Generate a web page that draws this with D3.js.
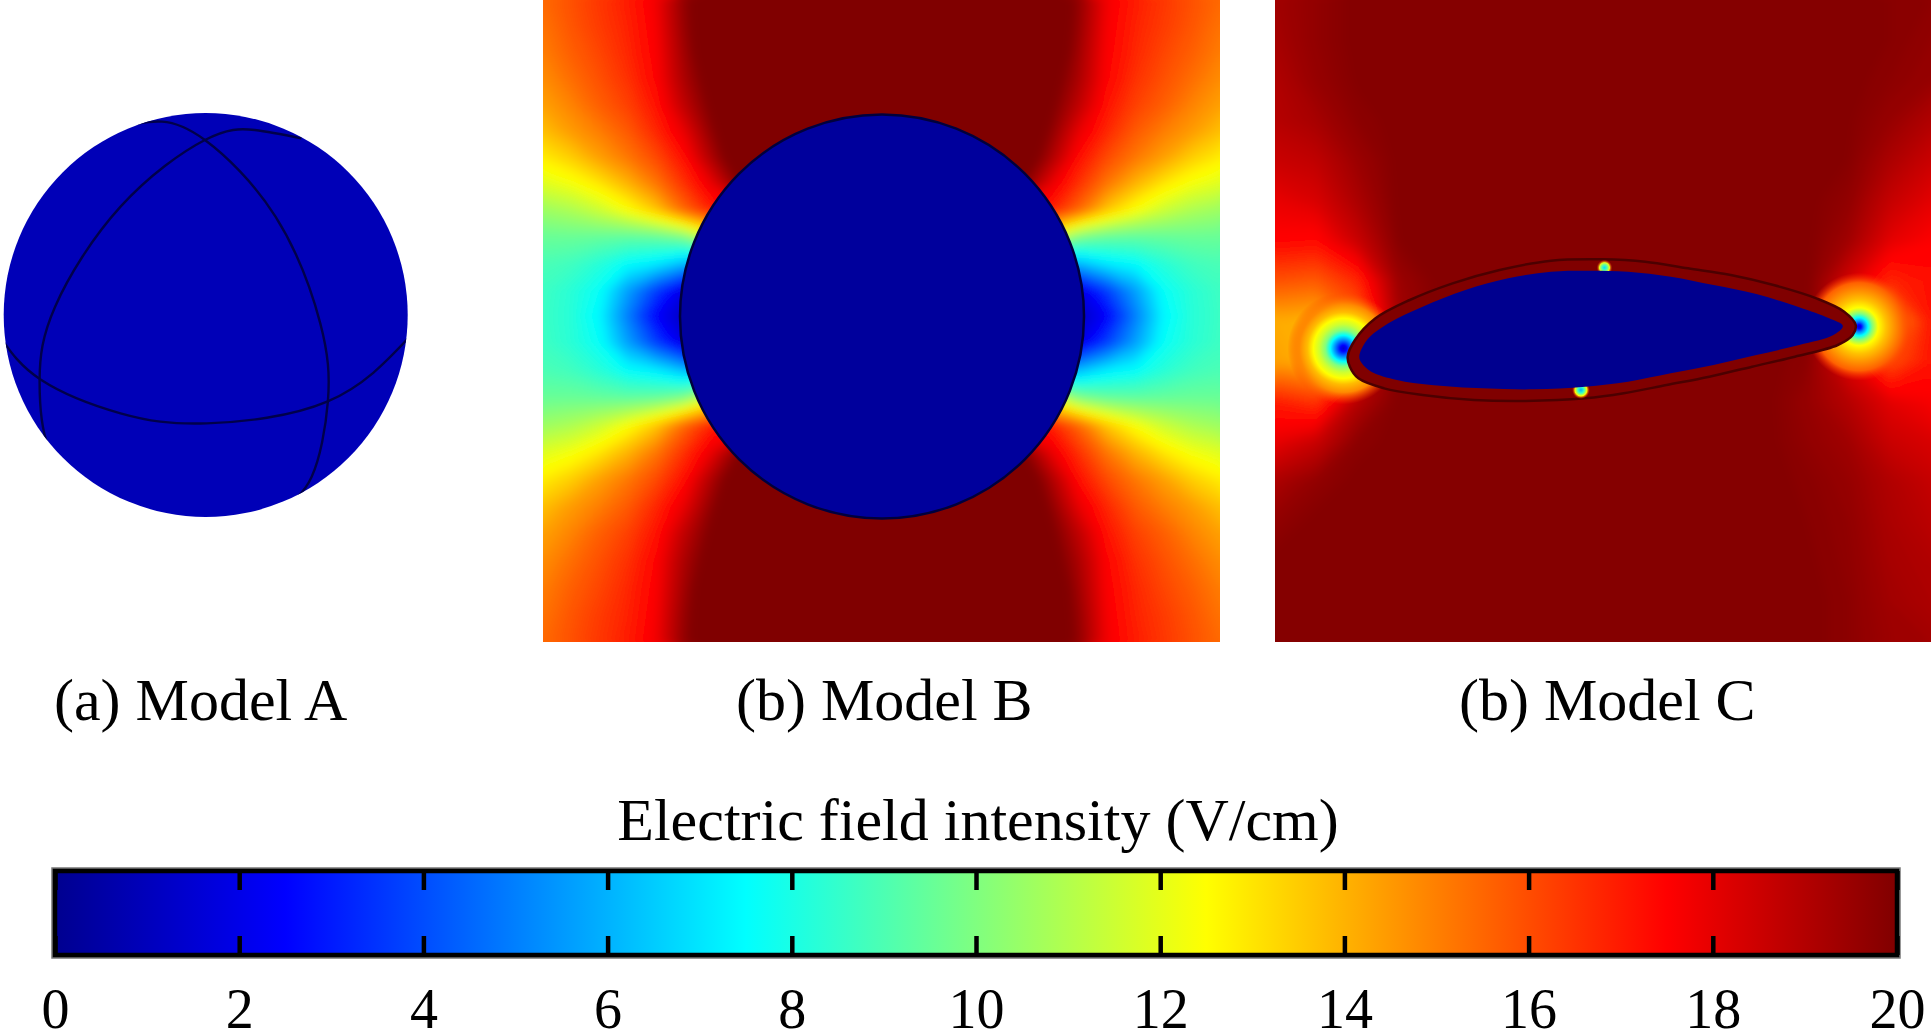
<!DOCTYPE html>
<html>
<head>
<meta charset="utf-8">
<title>Electric field intensity</title>
<script src="https://cdn.jsdelivr.net/npm/d3@7"></script>
<style>
  body { margin: 0; background: #fff; }
  text { font-family: "Liberation Serif", serif; fill: #000; }
</style>
</head>
<body>
<script>
// Data
//= ================================
let captions = ['(a) Model A', '(b) Model B', '(b) Model C'];
let barTitle = 'Electric field intensity (V/cm)';
let tickValues = [0, 2, 4, 6, 8, 10, 12, 14, 16, 18, 20];
let jetStops = [0, 2.5, 7.5, 12.5, 17.5, 20];
let jetColors = ['#00008f', '#0000ff', '#00ffff', '#ffff00', '#ff0000', '#800000'];

// interior field of each model (V/cm)
let sphereField = 0.9;
let circleField = 0.3;
let blobField = 0;

// Model B, top-left quadrant of the field, mirrored when drawn
let fieldB = [
  [15.5, 16.0, 16.5, 17.0, 17.8, 19.7, 21, 21, 21, 21, 21, 21, 21],
  [15.3, 15.9, 16.4, 16.9, 17.7, 19.6, 21, 21, 21, 21, 21, 21, 21],
  [15.1, 15.7, 16.2, 16.8, 17.6, 19.4, 21, 21, 21, 21, 21, 21, 21],
  [14.8, 15.4, 16.0, 16.6, 17.5, 19.2, 20.5, 21, 21, 21, 21, 21, 21],
  [14.4, 15.0, 15.7, 16.3, 17.2, 18.8, 20.2, 21, 21, 21, 21, 21, 21],
  [13.8, 14.5, 15.1, 15.8, 16.8, 18.0, 19.8, 21, 21, 21, 21, 21, 21],
  [12.9, 13.5, 14.4, 15.2, 16.1, 17.3, 19.2, 21, 21, 21, 21, 21, 21],
  [11.9, 12.3, 13.0, 14.0, 15.2, 16.6, 18.0, 20, 20, 20, 20, 20, 20],
  [10.6, 10.9, 11.5, 12.4, 13.6, 15.5, 17.0, 17, 17, 17, 17, 17, 17],
  [9.6, 9.6, 9.5, 9.4, 9.5, 10.0, 12.0, 12, 12, 12, 12, 12, 12],
  [9.0, 8.8, 8.3, 7.6, 7.2, 6.2, 6.0, 6, 6, 6, 6, 6, 6],
  [8.75, 8.35, 7.7, 5.7, 3.8, 1.9, 1.5, 2, 2, 2, 2, 2, 2],
  [8.7, 8.3, 7.4, 5.0, 2.5, 1.2, 1.0, 1, 1, 1, 1, 1, 1]
];

// Model C, full field on a coarse grid
let fieldC = [
  [19.4, 19.7, 20, 20, 20, 20, 20, 20, 20, 20, 20, 20, 20, 20, 20, 19.9, 19.8],
  [19.3, 19.7, 20, 20, 20, 20, 20, 20, 20, 20, 20, 20, 20, 20, 20, 19.9, 19.7],
  [19.1, 19.6, 19.95, 20, 20, 20, 20, 20, 20, 20, 20, 20, 20, 20, 20, 19.8, 19.6],
  [19.0, 19.3, 19.8, 20, 20, 20, 20, 20, 20, 20, 20, 20, 20, 20, 19.95, 19.6, 19.1],
  [18.6, 18.8, 19.5, 20, 20, 20, 20, 20, 20, 20, 20, 20, 20, 20, 19.9, 19.2, 18.6],
  [18.0, 18.3, 19.2, 20, 20, 20, 20, 20, 20, 20, 20, 20, 20, 20, 19.7, 18.7, 18.1],
  [17.5, 17.4, 18.6, 19.9, 20, 20, 20, 20, 20, 20, 20, 20, 20, 20, 19.4, 18.1, 17.6],
  [16.0, 15.8, 16.8, 19.5, 20, 20, 20, 20, 20, 20, 20, 20, 20, 20, 18.4, 16.8, 17.3],
  [14.2, 14.0, 15.5, 19.3, 20, 20, 20, 20, 20, 20, 20, 20, 20, 20, 17.0, 14.5, 17.2],
  [14.4, 14.0, 16.0, 20, 20, 20, 20, 20, 20, 20, 20, 20, 20, 19.8, 18.1, 16.0, 17.2],
  [17.0, 16.5, 19.0, 20, 20, 20, 20, 20, 20, 20, 20, 20, 20, 19.6, 19.0, 18.1, 17.7],
  [18.0, 18.6, 19.8, 20, 20, 20, 20, 20, 20, 20, 20, 20, 20, 19.7, 19.4, 18.6, 18.3],
  [19.2, 19.7, 20, 20, 20, 20, 20, 20, 20, 20, 20, 20, 20, 19.85, 19.6, 19.1, 18.7],
  [19.7, 20, 20, 20, 20, 20, 20, 20, 20, 20, 20, 20, 20, 19.9, 19.7, 19.2, 18.9],
  [20, 20, 20, 20, 20, 20, 20, 20, 20, 20, 20, 20, 20, 19.95, 19.75, 19.3, 19.1],
  [20, 20, 20, 20, 20, 20, 20, 20, 20, 20, 20, 20, 20, 20, 19.8, 19.4, 19.2],
  [20, 20, 20, 20, 20, 20, 20, 20, 20, 20, 20, 20, 20, 20, 19.8, 19.5, 19.4]
];

// field falling off around the sharp points of model C: [radius, value]
let spotLeft = [[0, 1.5], [3, 2.5], [8, 5], [13, 7.5], [18, 10], [24, 11.5], [30, 12.5], [36, 13.8], [44, 14.8], [56, 16]];
let spotRight = [[0, 1.5], [2, 2.5], [5, 5], [9, 7.5], [13, 10], [19, 12.5], [27, 13.7], [34, 14.5], [44, 15.6], [54, 16.6]];
let spotTop = [[0, 7], [3, 9.5], [5, 12], [8, 18]];
let spotBottom = [[0, 6], [3, 8.5], [6, 12.5], [9, 18]];

// Outlines, in units of the sketch they were traced on
let sphereArcA = [[395,132],[470,125],[595,180],[800,410],[930,730],[952,965],[905,1190],[815,1285]];
let sphereArcB = [[875,175],[740,150],[595,180],[350,380],[160,680],[115,900],[140,1100],[225,1205]];
let sphereArcC = [[0,770],[120,900],[350,1000],[600,1030],[950,965],[1190,770]];
let blobInner = [[232,410],[250,360],[300,310],[380,260],[480,210],[580,175],[680,155],[760,152],[860,155],[960,170],[1060,195],[1160,222],[1260,262],[1330,295],[1362,318],[1340,345],[1260,375],[1160,405],[1060,435],[960,460],[860,485],[760,500],[640,508],[520,505],[400,495],[320,480],[260,455],[238,430]];
let blobOuter = [[205,410],[222,360],[270,295],[350,240],[450,190],[560,150],[680,122],[800,118],[900,125],[1000,145],[1100,165],[1200,195],[1300,235],[1365,275],[1392,315],[1385,345],[1350,375],[1250,410],[1150,440],[1050,470],[950,495],[850,520],[760,535],[620,543],[500,540],[380,525],[290,505],[230,475],[210,440]];

// Set up the chart
//= ================================
let svgWidth = 1931;
let svgHeight = 1030;

let svg = d3.select('body')
  .append('svg')
  .attr('width', svgWidth)
  .attr('height', svgHeight)
  .style('display', 'block');
let defs = svg.append('defs');

let jet = d3.scaleLinear().domain(jetStops).range(jetColors).clamp(true);

// Scales
//= ================================
let sphereX = d3.scaleLinear().domain([0, 1568]).range([0, 540]);
let sphereY = d3.scaleLinear().domain([0, 1440]).range([80, 560]);
let blobX = d3.scaleLinear().domain([0, 1568]).range([1260, 1931]);
let blobY = d3.scaleLinear().domain([0, 660]).range([220, 440]);
let barX = d3.scaleLinear().domain([0, 20]).range([55, 1897]);

let panelB = { x0: 543, x1: 1220, y0: 0, y1: 642, midY: 316 };
let panelC = { x0: 1275, x1: 1931, y0: 0, y1: 642 };

// Filled contours of a value grid, clipped to its panel
//= ================================
let thresholds = d3.range(0.1, 20.01, 0.1);

// takes the corners off the coarse contours
let soften = defs.append('filter')
  .attr('id', 'soften')
  .attr('x', '-5%').attr('y', '-5%')
  .attr('width', '110%').attr('height', '110%');
soften.append('feGaussianBlur').attr('stdDeviation', 5);

function drawField(id, rows, panel, gridX, gridY) {
  let ny = rows.length;
  let nx = rows[0].length;
  let contours = d3.contours().size([nx, ny]).thresholds(thresholds)(rows.flat());
  let path = d3.geoPath(d3.geoTransform({
    point: function(x, y) { this.stream.point(gridX(x), gridY(y)); }
  }));

  defs.append('clipPath').attr('id', id)
    .append('rect')
    .attr('x', panel.x0).attr('y', panel.y0)
    .attr('width', panel.x1 - panel.x0).attr('height', panel.y1 - panel.y0);

  let g = svg.append('g').attr('clip-path', `url(#${id})`);
  g.append('g')
    .attr('filter', 'url(#soften)')
    .selectAll('path')
    .data(contours)
    .enter()
    .append('path')
    .attr('d', path)
    .attr('fill', d => jet(d.value));
  return g;
}

// radial fall-off, fades out into the field below it
function drawSpot(id, parent, spot, cx, cy) {
  let rMax = d3.max(spot, d => d[0]);
  let grad = defs.append('radialGradient').attr('id', id);
  grad.selectAll('stop')
    .data(spot)
    .enter()
    .append('stop')
    .attr('offset', d => d[0] / rMax)
    .attr('stop-color', d => jet(d[1]))
    .attr('stop-opacity', (d, i) => i === spot.length - 1 ? 0 : 1);
  parent.append('circle')
    .attr('cx', cx).attr('cy', cy).attr('r', rMax)
    .attr('fill', `url(#${id})`);
}

// Model A
//= ================================
defs.append('clipPath').attr('id', 'clipA')
  .append('circle')
  .attr('cx', 205.7).attr('cy', 315).attr('r', 202);

svg.append('circle')
  .attr('cx', 205.7).attr('cy', 315).attr('r', 202)
  .attr('fill', jet(sphereField));

let arcLine = d3.line()
  .x(d => sphereX(d[0]))
  .y(d => sphereY(d[1]))
  .curve(d3.curveNatural);

svg.append('g')
  .attr('clip-path', 'url(#clipA)')
  .selectAll('path')
  .data([sphereArcA, sphereArcB, sphereArcC])
  .enter()
  .append('path')
  .attr('d', arcLine)
  .attr('fill', 'none')
  .attr('stroke', '#00004a')
  .attr('stroke-width', 2.4);

// Model B
//= ================================
let mirroredB = fieldB.concat(fieldB.slice(0, -1).reverse())
  .map(r => r.concat(r.slice(0, -1).reverse()));

drawField('clipB', mirroredB, panelB,
  d3.scaleLinear().domain([0.5, 24.5]).range([panelB.x0, panelB.x1]),
  d3.scaleLinear().domain([0.5, 12.5, 24.5]).range([panelB.y0, panelB.midY, panelB.y1]));

svg.append('circle')
  .attr('cx', 882).attr('cy', 316.5).attr('r', 202)
  .attr('fill', jet(circleField))
  .attr('stroke', '#00003c')
  .attr('stroke-width', 2.5);

// Model C
//= ================================
let gC = drawField('clipC', fieldC, panelC,
  d3.scaleLinear().domain([0.5, 16.5]).range([panelC.x0, panelC.x1]),
  d3.scaleLinear().domain([0.5, 16.5]).range([panelC.y0, panelC.y1]));

drawSpot('spotLeft', gC, spotLeft, blobX(195), blobY(385));
drawSpot('spotRight', gC, spotRight, blobX(1400), blobY(320));

let blobLine = d3.line()
  .x(d => blobX(d[0]))
  .y(d => blobY(d[1]))
  .curve(d3.curveCatmullRomClosed);

gC.append('path')
  .attr('d', blobLine(blobOuter))
  .attr('fill', jet(20))
  .attr('stroke', '#4c0000')
  .attr('stroke-width', 2.5);

drawSpot('spotTop', gC, spotTop, blobX(805), blobY(143));
drawSpot('spotBottom', gC, spotBottom, blobX(750), blobY(510));

gC.append('path')
  .attr('d', blobLine(blobInner))
  .attr('fill', jet(blobField));

// Captions
//= ================================
svg.selectAll('text.caption')
  .data(captions)
  .enter()
  .append('text')
  .attr('class', 'caption')
  .attr('x', (d, i) => [54, 736, 1459][i])
  .attr('y', 720)
  .attr('font-size', '60px')
  .text(d => d);

// Colour bar
//= ================================
let barTop = 871;
let barBottom = 955;

let barGrad = defs.append('linearGradient').attr('id', 'jetBar');
barGrad.selectAll('stop')
  .data(jetStops)
  .enter()
  .append('stop')
  .attr('offset', d => d / 20)
  .attr('stop-color', d => jet(d));

svg.append('text')
  .attr('x', 978)
  .attr('y', 840)
  .attr('text-anchor', 'middle')
  .attr('font-size', '60px')
  .text(barTitle);

// soft grey edge round the black frame
svg.append('rect')
  .attr('x', barX(0)).attr('y', barTop)
  .attr('width', barX(20) - barX(0)).attr('height', barBottom - barTop)
  .attr('fill', 'none')
  .attr('stroke', '#777')
  .attr('stroke-width', 7.5);

svg.append('rect')
  .attr('x', barX(0)).attr('y', barTop)
  .attr('width', barX(20) - barX(0)).attr('height', barBottom - barTop)
  .attr('fill', 'url(#jetBar)')
  .attr('stroke', '#000')
  .attr('stroke-width', 4.5);

// ticks point inward from both edges, labels only below
let bottomAxis = d3.axisBottom(barX)
  .tickValues(tickValues)
  .tickSize(-19);
let topAxis = d3.axisBottom(barX)
  .tickValues(tickValues)
  .tickSize(19)
  .tickFormat('');

svg.append('g')
  .attr('transform', `translate(0, ${barBottom})`)
  .call(bottomAxis)
  .call(g => g.select('.domain').remove())
  .call(g => g.selectAll('line').attr('stroke', '#000').attr('stroke-width', 4.5))
  .call(g => g.selectAll('text').attr('font-size', '56px').attr('font-family', '"Liberation Serif", serif').attr('dy', 0).attr('y', 73));

svg.append('g')
  .attr('transform', `translate(0, ${barTop})`)
  .call(topAxis)
  .call(g => g.select('.domain').remove())
  .call(g => g.selectAll('line').attr('stroke', '#000').attr('stroke-width', 4.5));
</script>
</body>
</html>
